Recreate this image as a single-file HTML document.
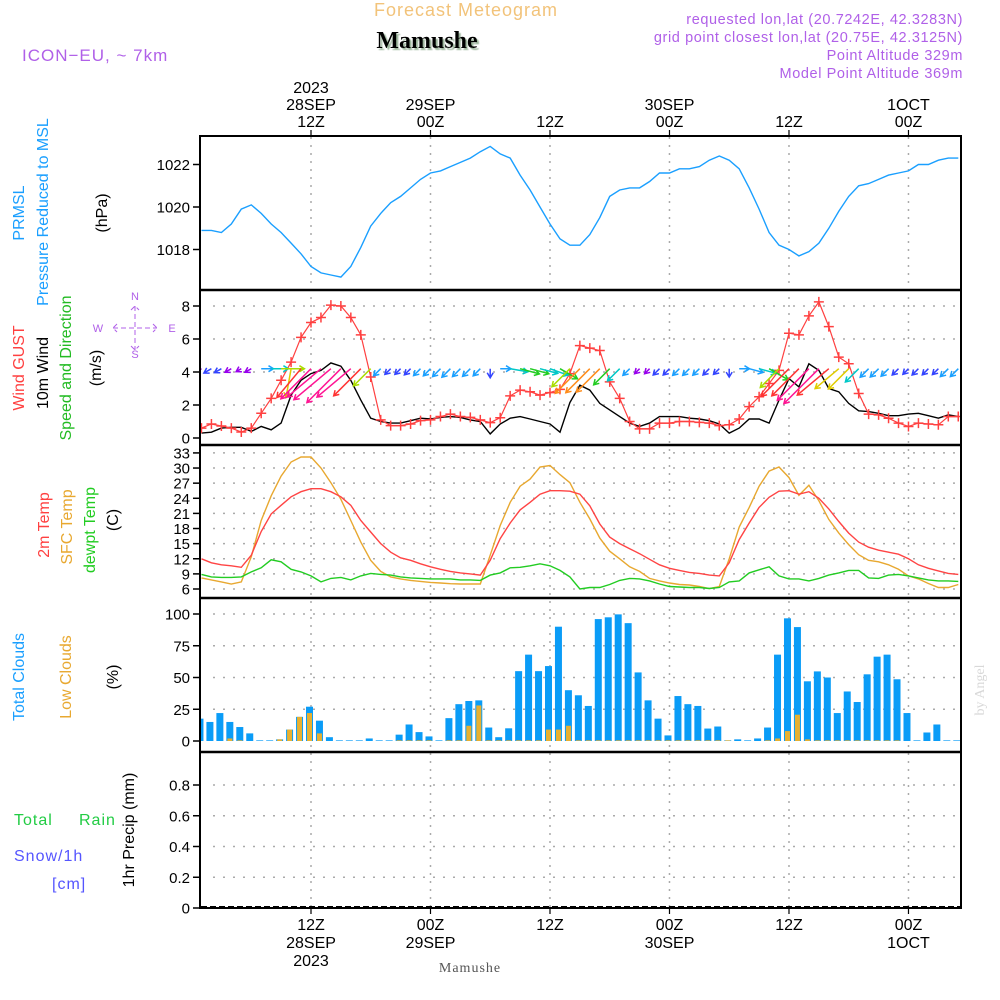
<!DOCTYPE html>
<html><head><meta charset="utf-8">
<style>
html,body{margin:0;padding:0;background:#fff;}
svg{display:block;font-family:"Liberation Sans",sans-serif;}
</style></head>
<body>
<svg id="chart" width="1000" height="1000" viewBox="0 0 1000 1000" xmlns="http://www.w3.org/2000/svg">
<defs>
<clipPath id="plotclip"><rect x="201" y="136" width="759" height="772"/></clipPath>
<filter id="sh"><feDropShadow dx="2" dy="2" stdDeviation="0.6" flood-color="#9bb59b"/></filter>
</defs>
<text x="466" y="16" font-size="18" fill="#f2c37a" text-anchor="middle" letter-spacing="1">Forecast Meteogram</text>
<text x="427" y="48" font-size="24" font-weight="bold" font-family="Liberation Serif,serif" fill="#000" text-anchor="middle" filter="url(#sh)">Mamushe</text>
<text x="22" y="61" font-size="17" fill="#b060e8" letter-spacing="1">ICON−EU, ~ 7km</text>
<g font-size="14.5" fill="#b060e8" text-anchor="end" letter-spacing="0.6">
<text x="963" y="24">requested lon,lat (20.7242E, 42.3283N)</text>
<text x="963" y="42">grid point closest lon,lat (20.75E, 42.3125N)</text>
<text x="963" y="60">Point Altitude 329m</text>
<text x="963" y="78">Model Point Altitude 369m</text>
</g>
<text transform="translate(984,690) rotate(-90)" font-size="14" fill="#d8d8d8" font-family="Liberation Serif,serif" text-anchor="middle">by Angel</text>
<text x="470" y="972" font-size="14" fill="#555" font-family="Liberation Serif,serif" text-anchor="middle" letter-spacing="1">Mamushe</text>

<g font-size="16">
<text transform="translate(24,213) rotate(-90)" fill="#1a9fff" text-anchor="middle">PRMSL</text>
<text transform="translate(48,212) rotate(-90)" fill="#1a9fff" text-anchor="middle">Pressure Reduced to MSL</text>
<text transform="translate(107,213) rotate(-90)" fill="#000" text-anchor="middle">(hPa)</text>
</g>
<g font-size="16">
<text transform="translate(24,368) rotate(-90)" fill="#ff4040" text-anchor="middle">Wind GUST</text>
<text transform="translate(48,373) rotate(-90)" fill="#000" text-anchor="middle">10m Wind</text>
<text transform="translate(71,368) rotate(-90)" fill="#22bb22" text-anchor="middle">Speed and Direction</text>
<text transform="translate(101,368) rotate(-90)" fill="#000" text-anchor="middle">(m/s)</text>
</g>
<g font-size="11" fill="#b060e8" stroke="none" text-anchor="middle">
<text x="135" y="300">N</text><text x="135" y="358">S</text><text x="98" y="332">W</text><text x="172" y="332">E</text>
<path d="M113 328 H157 M135 306 V350 M117 324 L113 328 L117 332 M153 324 L157 328 L153 332 M131 310 L135 306 L139 310 M131 346 L135 350 L139 346" stroke="#b060e8" stroke-width="1" fill="none" stroke-dasharray="5,3"/>
</g>
<g font-size="16">
<text transform="translate(49,525) rotate(-90)" fill="#ff4040" text-anchor="middle">2m Temp</text>
<text transform="translate(72,527) rotate(-90)" fill="#e8a830" text-anchor="middle">SFC Temp</text>
<text transform="translate(95,530) rotate(-90)" fill="#22cc22" text-anchor="middle">dewpt Temp</text>
<text transform="translate(118,520) rotate(-90)" fill="#000" text-anchor="middle">(C)</text>
</g>
<g font-size="16">
<text transform="translate(24,677) rotate(-90)" fill="#1a9fff" text-anchor="middle">Total Clouds</text>
<text transform="translate(71,677) rotate(-90)" fill="#e8a830" text-anchor="middle">Low Clouds</text>
<text transform="translate(118,677) rotate(-90)" fill="#000" text-anchor="middle">(%)</text>
</g>
<g font-size="16" letter-spacing="1">
<text x="14" y="825" fill="#22cc44">Total</text>
<text x="79" y="825" fill="#22cc44">Rain</text>
<text x="14" y="861" fill="#5555ff">Snow/1h</text>
<text x="52" y="889" fill="#5555ff">[cm]</text>
<text transform="translate(134,830) rotate(-90)" fill="#000" text-anchor="middle" letter-spacing="0">1hr Precip (mm)</text>
</g>

<g id="grid"></g>
<g id="marks" clip-path="url(#plotclip)"></g>
<g id="frame"></g>
<g id="axes"></g>
</svg>
<script>
const hours = [];
for (let h = 1; h <= 77; h++) hours.push(h);
const pressure = [1018.9,1018.9,1018.8,1019.2,1019.9,1020.1,1019.7,1019.2,1018.8,1018.3,
1017.8,1017.2,1016.9,1016.8,1016.7,1017.2,1018.1,1019.1,1019.7,1020.2,
1020.5,1020.9,1021.3,1021.6,1021.7,1021.9,1022.1,1022.3,1022.6,1022.85,
1022.5,1022.3,1021.5,1020.8,1020.0,1019.2,1018.5,1018.2,1018.2,1018.7,
1019.5,1020.5,1020.8,1020.9,1020.9,1021.2,1021.6,1021.6,1021.8,1021.8,
1021.9,1022.2,1022.4,1022.2,1021.8,1020.9,1019.9,1018.8,1018.2,1018.0,
1017.7,1017.9,1018.3,1019.0,1019.8,1020.5,1021.0,1021.1,1021.3,1021.5,
1021.6,1021.7,1022.0,1022.0,1022.2,1022.3,1022.3];
const gust = [0.6,0.85,0.73,0.6,0.36,0.6,1.5,2.4,3.5,4.6,
6.1,7.0,7.3,8.05,8.0,7.3,6.25,3.7,1.1,0.75,
0.75,0.85,1.05,1.1,1.3,1.45,1.3,1.25,1.1,0.93,
1.23,2.55,2.9,2.8,2.6,2.75,2.95,3.9,5.6,5.45,
5.3,3.4,2.4,1.0,0.55,0.55,0.9,0.9,1.0,1.0,
0.95,0.9,0.75,0.8,1.15,1.9,2.5,3.3,4.1,6.35,
6.25,7.4,8.25,6.75,4.9,4.5,2.7,1.45,1.4,1.2,
0.9,0.7,0.9,0.85,0.8,1.3,1.3];
const wind10 = [0.3,0.35,0.6,0.65,0.65,0.4,0.7,0.5,0.9,2.6,
3.5,3.9,4.1,4.55,4.35,3.5,2.3,1.2,1.0,0.9,
0.9,1.05,1.2,1.15,1.25,1.3,1.25,1.1,1.0,0.25,
0.85,1.2,1.3,1.15,1.0,0.85,0.35,2.15,3.2,2.9,
2.1,1.7,1.3,0.9,0.7,0.9,1.3,1.3,1.3,1.2,
1.15,1.05,0.85,0.3,0.6,1.15,1.15,0.9,2.3,3.6,
3.1,4.5,4.1,3.0,2.8,2.1,1.65,1.6,1.5,1.35,
1.35,1.45,1.5,1.35,1.2,1.4,1.3];
const windDir = [60,60,60,60,60,60,270,270,270,10,
40,45,50,50,45,50,45,45,45,45,
45,45,45,45,45,45,45,45,45,0,
270,280,285,285,285,290,300,45,45,45,
45,45,45,45,45,45,45,45,45,45,
45,45,45,0,270,285,285,300,45,45,
45,45,45,50,50,45,45,45,45,45,
45,45,45,45,45,45,45];
const temp2m = [12.0,11.2,10.8,10.6,10.3,12.7,17.4,20.9,22.6,24.3,
25.3,25.9,25.9,25.3,24.3,22.6,19.6,17.3,15.0,13.3,
12.2,11.7,11.0,10.4,9.9,9.5,9.2,9.0,8.75,11.7,
16.0,19.1,21.7,23.2,24.8,25.5,25.5,25.4,24.8,22.5,
18.9,16.3,15.0,14.0,13.0,11.9,10.8,10.1,9.7,9.3,
9.1,8.75,8.6,11.2,15.8,19.1,22.2,24.2,25.4,25.5,
24.8,25.3,24.0,21.9,19.4,17.1,15.3,14.3,13.7,13.3,
12.9,12.0,10.8,10.1,9.6,9.1,8.9];
const tempSfc = [8.2,7.8,7.4,7.0,7.4,12.4,19.6,24.5,28.4,31.2,
32.2,32.2,30.0,27.1,23.8,19.6,15.3,11.7,9.5,8.4,
8.0,7.7,7.5,7.3,7.2,7.05,7.0,7.0,7.0,12.7,
18.6,23.2,26.4,27.8,30.2,30.5,28.7,27.1,23.2,19.9,
16.1,13.5,12.0,10.4,9.5,8.1,7.6,7.2,6.9,6.8,
6.5,6.1,6.5,12.0,18.3,22.2,26.4,29.4,30.2,28.1,
24.6,26.6,23.5,19.8,17.1,14.8,12.8,11.7,11.4,10.8,
9.9,8.6,8.0,7.1,6.3,6.3,6.9];
const dewpt = [8.9,8.4,8.3,8.3,8.4,9.4,10.2,11.8,11.4,9.9,
9.4,8.6,7.4,8.1,8.3,7.8,8.6,9.1,8.9,8.75,
8.4,8.2,8.1,8.0,8.0,8.0,7.8,7.8,7.7,8.75,
9.2,10.2,10.3,10.6,11.0,10.6,9.7,8.4,6.0,6.3,
6.3,6.9,7.7,8.1,8.0,7.6,7.0,6.5,6.4,6.3,
6.3,6.1,6.3,7.4,7.6,9.2,9.8,10.4,8.6,8.0,
8.0,7.6,8.1,8.75,9.2,9.7,9.7,8.2,8.1,8.75,
8.9,8.6,8.2,7.8,7.6,7.6,7.5];
const totalClouds = [17.6,15,22,15,11,6,0.5,0.5,1.3,9,
19,27,16,3,0.5,0.5,0.5,2,0.5,0.5,
5,13,7,3.6,0.5,18,29,31.5,32,10.6,
3,10,55,68,55,59,90,40,36,27.6,
96,97.4,99.7,92.8,54,32,17.6,4.4,35.4,29,
27.6,9.8,11.4,0.5,1.3,0.5,2,10.6,68,96.6,
89.7,47,54.8,50,22,39,30.7,52.5,66.4,68,
48.6,22,0.5,6.7,13,0.5,0.5];
const lowClouds = [0,0,0,2,0.5,0,0,0,1.3,9,
19,22,6,0,0,0,0,0,0,0,
0.5,0.5,0.5,0.5,0,0.5,0.5,12,28,0.5,
0.5,0.5,0.5,0.5,0.5,9,9,12,0.5,0.5,
0.5,0.5,0.5,0.5,0.5,0.5,0.5,0.5,0.5,0.5,
0.5,0.5,0.5,0.5,0,0,0,0.5,2,7.8,
20.7,1.3,0.5,0.5,0.5,0.5,0.5,0.5,0.5,0.5,
0.5,0,0,0,0,0,0];
const timeTicks = [12,24,36,48,60,72];
const topLabels = [["2023","28SEP","12Z"],["29SEP","00Z"],["12Z"],["30SEP","00Z"],["12Z"],["1OCT","00Z"]];
const botLabels = [["12Z","28SEP","2023"],["00Z","29SEP"],["12Z"],["00Z","30SEP"],["12Z"],["00Z","1OCT"]];
const pTicks = [1018,1020,1022];
const wTicks = [0,2,4,6,8];
const tTicks = [6,9,12,15,18,21,24,27,30,33];
const cTicks = [0,25,50,75,100];
const rTicks = [0,0.2,0.4,0.6,0.8];

const NS = "http://www.w3.org/2000/svg";
const L = 201, R = 960;
const xh = h => 311 + (h - 12) * 9.958;
const yP = v => 207 - (v - 1020) * 21.25;
const yW = v => 438 - v * 16.5;
const yT = v => 589 - (v - 6) * 5.04;
const yC = v => 741 - v * 1.27;
const yR = v => 908 - v * 153.75;
function mk(tag, attrs, parent) {
  const e = document.createElementNS(NS, tag);
  for (const k in attrs) e.setAttribute(k, attrs[k]);
  parent.appendChild(e);
  return e;
}
const grid = document.getElementById('grid');
const marks = document.getElementById('marks');
const frame = document.getElementById('frame');
const axes = document.getElementById('axes');

timeTicks.forEach(t => {
  const g = mk('line', {x1: xh(t), x2: xh(t), y1: 137, y2: 908, stroke: '#aaa', 'stroke-width': 1.5, 'stroke-dasharray': '2,6'}, grid);
  
  
});
function hgrid(ticks, sc, name) {
  ticks.forEach(v => {
    const g = mk('line', {x1: L + 12, x2: R, y1: sc(v), y2: sc(v), stroke: '#aaa', 'stroke-width': 1.5, 'stroke-dasharray': '2,8'}, grid);
    
    
  });
}
hgrid(wTicks.slice(1), yW, 'wind-gridline');
hgrid(tTicks, yT, 'temp-gridline');
hgrid(cTicks.slice(1), yC, 'cloud-gridline');
hgrid(rTicks.slice(1), yR, 'precip-gridline');

hours.forEach((h, i) => {
  const x = xh(h) - 1.5;
  const b = mk('rect', {x: x - 3.5, y: yC(totalClouds[i]), width: 7, height: yC(0) - yC(totalClouds[i]), fill: '#0a9cf7'}, marks);
  
  
  if (lowClouds[i] > 0) {
    const lb = mk('rect', {x: x - 2.5, y: yC(lowClouds[i]), width: 5, height: yC(0) - yC(lowClouds[i]), fill: '#e8b030'}, marks);
    
    
  }
});

function line(vals, sc, color, name, w) {
  const d = vals.map((v, i) => (i ? 'L' : 'M') + xh(hours[i]).toFixed(1) + ' ' + sc(v).toFixed(1)).join(' ');
  const p = mk('path', {d: d, fill: 'none', stroke: color, 'stroke-width': w || 1.4}, marks);
  
  
}
line(pressure, yP, '#1a9fff', 'pressure-line');
line(wind10, yW, '#000', 'wind10m-line');
line(gust, yW, '#ff4040', 'gust-line', 1.2);
hours.forEach((h, i) => {
  const x = xh(h), y = yW(gust[i]);
  const m = mk('path', {d: `M${x-5} ${y} H${x+5} M${x} ${y-5} V${y+5}`, stroke: '#ff4040', 'stroke-width': 1.5}, marks);
  
  
});
line(tempSfc, yT, '#e8a830', 'sfc-temp-line');
line(temp2m, yT, '#ff4444', 'temp2m-line');
line(dewpt, yT, '#22cc22', 'dewpoint-line');

function arrowColor(g) {
  if (g < 0.7) return '#9900ee';
  if (g < 0.95) return '#3344ff';
  if (g < 2) return '#1aa0ff';
  if (g < 2.8) return '#00c8c8';
  if (g < 3.5) return '#22cc22';
  if (g < 4.5) return '#aadd00';
  if (g < 5) return '#e0cc00';
  if (g < 6) return '#ff8c1a';
  if (g < 7) return '#ff3333';
  return '#ff1493';
}
hours.forEach((h, i) => {
  const x0 = xh(h), y0 = yW(4.2);
  const len = 4 + gust[i] * 5.5;
  const a = windDir[i] * Math.PI / 180;
  const ux = -Math.sin(a), uy = Math.cos(a);
  const x1 = x0 + ux * len, y1 = y0 + uy * len;
  const px = -uy, py = ux;
  const hl = 5;
  const d = `M${x0.toFixed(1)} ${y0.toFixed(1)} L${x1.toFixed(1)} ${y1.toFixed(1)} M${(x1 - ux*hl + px*hl*0.6).toFixed(1)} ${(y1 - uy*hl + py*hl*0.6).toFixed(1)} L${x1.toFixed(1)} ${y1.toFixed(1)} L${(x1 - ux*hl - px*hl*0.6).toFixed(1)} ${(y1 - uy*hl - py*hl*0.6).toFixed(1)}`;
  const ar = mk('path', {d: d, fill: 'none', stroke: arrowColor(gust[i]), 'stroke-width': 1.5}, marks);
  
  
});

const z = mk('line', {x1: L, x2: R, y1: 907, y2: 907, stroke: '#000', 'stroke-width': 2, 'stroke-dasharray': '6,3'}, marks);



const fr = mk('rect', {x: 200, y: 136, width: 761, height: 772, fill: 'none', stroke: '#000', 'stroke-width': 2}, frame);


[290, 445, 598, 752].forEach(y => {
  const s = mk('line', {x1: 200, x2: 961, y1: y, y2: y, stroke: '#000', 'stroke-width': 2.5}, frame);
  
  
});

function yaxis(ticks, sc, fmt, name) {
  ticks.forEach(v => {
    const t = mk('line', {x1: 193, x2: 200, y1: sc(v), y2: sc(v), stroke: '#000', 'stroke-width': 1.5}, axes);
    
    
    const tx = mk('text', {x: 190, y: sc(v) + 5.5, 'font-size': 15, 'text-anchor': 'end', fill: '#000'}, axes);
    
    
    tx.textContent = fmt(v);
  });
}
yaxis(pTicks, yP, v => String(v), 'pressure-axis');
yaxis(wTicks, yW, v => String(v), 'wind-axis');
yaxis(tTicks, yT, v => String(v), 'temp-axis');
yaxis(cTicks, yC, v => String(v), 'cloud-axis');
yaxis(rTicks, yR, v => v === 0 ? '0' : v.toFixed(1), 'precip-axis');

timeTicks.forEach((t, i) => {
  const x = xh(t);
  const tt = mk('line', {x1: x, x2: x, y1: 130, y2: 137, stroke: '#000', 'stroke-width': 1.2}, axes);
  
  
  const bt = mk('line', {x1: x, x2: x, y1: 908, y2: 914, stroke: '#000', 'stroke-width': 1.2}, axes);
  
  
  const top = topLabels[i];
  top.forEach((s, j) => {
    const tx = mk('text', {x: x, y: 127 - (top.length - 1 - j) * 17, 'font-size': 16, 'text-anchor': 'middle', fill: '#000'}, axes);
    
    
    tx.textContent = s;
  });
  botLabels[i].forEach((s, j) => {
    const tx = mk('text', {x: x, y: 930 + j * 18, 'font-size': 16, 'text-anchor': 'middle', fill: '#000'}, axes);
    
    
    tx.textContent = s;
  });
});
</script>
</body></html>
